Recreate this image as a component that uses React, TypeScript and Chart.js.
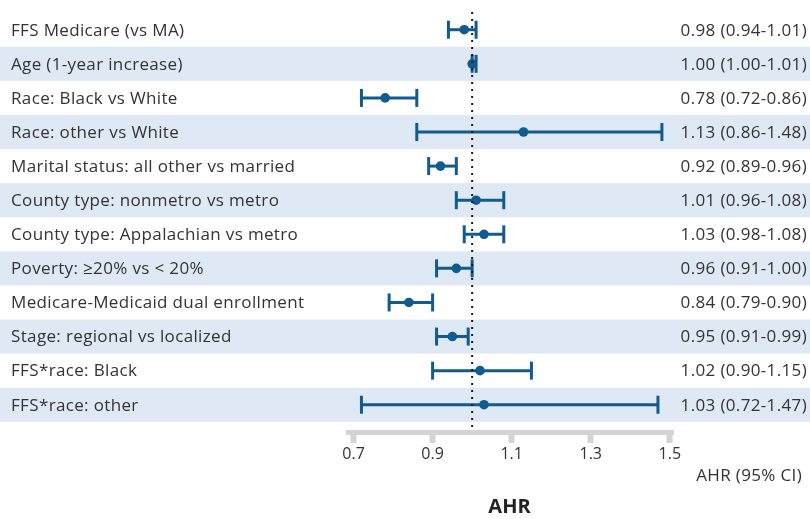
import React, { useEffect, useRef } from "react";
import { Chart, registerables } from "chart.js";

Chart.register(...registerables);

const categories = [
  "FFS Medicare (vs MA)",
  "Age (1-year increase)",
  "Race: Black vs White",
  "Race: other vs White",
  "Marital status: all other vs married",
  "County type: nonmetro vs metro",
  "County type: Appalachian vs metro",
  "Poverty: \u226520% vs < 20%",
  "Medicare-Medicaid dual enrollment",
  "Stage: regional vs localized",
  "FFS*race: Black",
  "FFS*race: other",
];

const estimates = [0.98, 1.0, 0.78, 1.13, 0.92, 1.01, 1.03, 0.96, 0.84, 0.95, 1.02, 1.03];
const lowerCI = [0.94, 1.0, 0.72, 0.86, 0.89, 0.96, 0.98, 0.91, 0.79, 0.91, 0.9, 0.72];
const upperCI = [1.01, 1.01, 0.86, 1.48, 0.96, 1.08, 1.08, 1.0, 0.9, 0.99, 1.15, 1.47];

const tickValues = [0.7, 0.9, 1.1, 1.3, 1.5];
const referenceValue = 1.0;

const FONT = "'Open Sans', Roboto, 'DejaVu Sans', sans-serif";
const BLUE = "#115b8e";
const STRIPE = "#dfe9f5";
const TEXT = "#333333";
const AXIS_GREY = "#d4d4d4";

const Y_MIN = -0.52;
const Y_MAX = 11.8;

export default function App() {
  const ref = useRef<HTMLCanvasElement | null>(null);

  useEffect(() => {
    if (!ref.current) return;

    const stripesAndLabels = {
      id: "stripesAndLabels",
      beforeDatasetsDraw(chart: any) {
        const { ctx } = chart;
        const y = chart.scales.y;
        ctx.save();
        ctx.fillStyle = STRIPE;
        categories.forEach((_, i) => {
          if (i % 2 === 1) {
            const t = y.getPixelForValue(i - 0.5);
            const b = y.getPixelForValue(i + 0.5);
            ctx.fillRect(0, t, chart.width, b - t);
          }
        });
        ctx.restore();
      },
      afterDraw(chart: any) {
        const { ctx } = chart;
        const y = chart.scales.y;
        ctx.save();
        ctx.font = `17px ${FONT}`;
        try {
          (ctx as any).letterSpacing = "0.35px";
        } catch (e) {}
        ctx.fillStyle = TEXT;
        ctx.textBaseline = "middle";
        categories.forEach((label, i) => {
          const yc = y.getPixelForValue(i) + 1;
          ctx.textAlign = "left";
          ctx.fillText(label, 11, yc);
          ctx.textAlign = "right";
          const txt = `${estimates[i].toFixed(2)} (${lowerCI[i].toFixed(2)}-${upperCI[i].toFixed(2)})`;
          ctx.fillText(txt, 807, yc);
        });
        ctx.textAlign = "right";
        ctx.fillText("AHR (95% CI)", 802, 476);
        ctx.restore();
      },
    };

    const ciDatasets = categories.map((_, i) => ({
      type: "line" as const,
      data: [
        { x: lowerCI[i], y: i },
        { x: upperCI[i], y: i },
      ],
      borderColor: BLUE,
      borderWidth: 3,
      pointStyle: "line" as const,
      pointRotation: 90,
      pointRadius: 9,
      pointHoverRadius: 9,
      pointBorderWidth: 3,
      pointBorderColor: BLUE,
      pointBackgroundColor: BLUE,
      order: 2,
    }));

    const chart = new Chart(ref.current, {
      type: "scatter",
      data: {
        datasets: [
          {
            type: "line",
            data: [
              { x: referenceValue, y: Y_MIN },
              { x: referenceValue, y: Y_MAX },
            ],
            borderColor: "#1a1a1a",
            borderWidth: 2,
            borderDash: [2, 5],
            pointRadius: 0,
            order: 0,
          } as any,
          {
            type: "scatter",
            data: estimates.map((v, i) => ({ x: v, y: i })),
            pointRadius: 4.8,
            pointHoverRadius: 4.8,
            backgroundColor: BLUE,
            borderWidth: 0,
            order: 1,
          } as any,
          ...(ciDatasets as any[]),
        ],
      },
      options: {
        animation: false,
        responsive: false,
        devicePixelRatio: 1,
        events: [],
        layout: { padding: { left: 348, right: 139, top: 11, bottom: 0 } },
        plugins: {
          legend: { display: false },
          tooltip: { enabled: false },
        },
        scales: {
          x: {
            type: "linear",
            min: 0.686,
            max: 1.503,
            afterBuildTicks: (s: any) => {
              s.ticks = tickValues.map((v) => ({ value: v }));
            },
            afterFit: (s: any) => {
              s.height = 87;
            },
            grid: {
              display: true,
              drawOnChartArea: false,
              drawTicks: true,
              tickLength: 11,
              tickWidth: 6,
              tickColor: AXIS_GREY,
              color: AXIS_GREY,
              lineWidth: 5,
            },
            border: { display: true, color: AXIS_GREY, width: 5 },
            ticks: {
              font: { family: FONT, size: 16 },
              color: TEXT,
              padding: 2,
              callback: (v: any) => Number(v).toFixed(1),
            },
            title: {
              display: true,
              text: "AHR",
              font: { family: FONT, size: 20, weight: "bold" },
              color: "#222222",
              padding: { top: 0, bottom: 0 },
            },
          },
          y: {
            type: "linear",
            min: Y_MIN,
            max: Y_MAX,
            reverse: true,
            display: false,
          },
        },
      },
      plugins: [stripesAndLabels],
    });

    return () => chart.destroy();
  }, []);

  return (
    <div style={{ position: "fixed", left: 0, top: 0, width: 810, height: 519, background: "#ffffff" }}>
      <canvas ref={ref} width={810} height={519} style={{ display: "block", width: 810, height: 519 }} />
    </div>
  );
}
